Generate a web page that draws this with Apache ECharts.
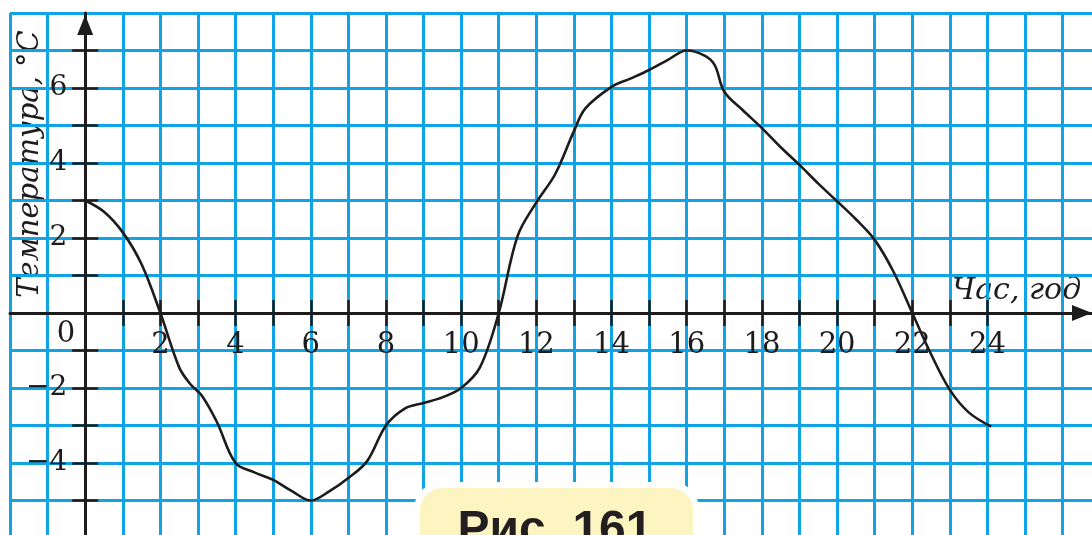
<!DOCTYPE html>
<html>
<head>
<meta charset="utf-8">
<script src="https://cdn.jsdelivr.net/npm/echarts@6/dist/echarts.min.js"></script>
<style>
  html, body { margin: 0; padding: 0; background: #ffffff; }
  #chart { width: 1092px; height: 535px; }
</style>
</head>
<body>
<div id="chart"></div>
<script>
// Temperature during the day: hour of the day and air temperature (°C)
const hours = [0, 0.5, 1, 1.5, 2, 2.5, 2.8, 3.1, 3.5, 4, 4.5, 5, 5.5, 6, 6.5, 7, 7.5, 8, 8.5, 9, 9.5, 10, 10.5, 11, 11.5, 12, 12.5, 13, 13.3, 14, 14.5, 15, 15.5, 16, 16.5, 16.75, 17, 17.5, 18, 18.5, 19, 19.5, 20, 20.5, 21, 21.5, 22, 22.5, 23, 23.5, 24.1];
const temps = [3.0, 2.7, 2.15, 1.3, 0.0, -1.45, -1.9, -2.2, -2.9, -4.0, -4.25, -4.45, -4.75, -5.0, -4.75, -4.4, -3.95, -3.0, -2.55, -2.4, -2.25, -2.0, -1.45, 0.0, 2.05, 2.95, 3.7, 4.85, 5.45, 6.03, 6.25, 6.48, 6.75, 7.0, 6.85, 6.6, 5.9, 5.4, 4.93, 4.42, 3.95, 3.45, 2.98, 2.5, 1.95, 1.1, 0.0, -1.1, -2.05, -2.65, -3.03];

// Tick marks and tick labels on both axes
const xTickHours = [1, 2, 3, 4, 5, 6, 7, 8, 9, 10, 11, 12, 13, 14, 15, 16, 17, 18, 19, 20, 21, 22, 23, 24];
const xLabelHours = [2, 4, 6, 8, 10, 12, 14, 16, 18, 20, 22, 24];
const yTickTemps = [-5, -4, -3, -2, -1, 1, 2, 3, 4, 5, 6, 7];
const yLabelTemps = [-4, -2, 2, 4, 6];

const X_MIN = -2, X_MAX = 26.78;
const Y_MIN = -6, Y_MAX = 8;

// plotting area of the squared paper
const G_LEFT = 10, G_TOP = 13, G_W = 1082, G_H = 525;

// distance of the zero lines from the grid edges, used to shift the black axes onto them
const zeroFromLeft = G_W * (0 - X_MIN) / (X_MAX - X_MIN);
const zeroFromTop = G_H * (Y_MAX - 0) / (Y_MAX - Y_MIN);
const zeroFromBottom = G_H - zeroFromTop;
const zeroFromRight = G_W - zeroFromLeft;

const INK = '#1c1c1c';
const GRID_BLUE = '#10a4e6';
const SERIF = '"DejaVu Serif", "Liberation Serif", serif';
const NUM_SIZE = 29;

const chart = echarts.init(document.getElementById('chart'), null, { renderer: 'canvas' });

const fmtNum = v => (v < 0 ? '\u2212' + Math.abs(v) : String(v));

const tickStyle = { color: INK, width: 2.5 };
const xAxisBase = { type: 'value', min: X_MIN, max: X_MAX, gridIndex: 0, splitLine: { show: false } };
const yAxisBase = { type: 'value', min: Y_MIN, max: Y_MAX, gridIndex: 0, splitLine: { show: false } };

const option = {
  backgroundColor: '#ffffff',
  animation: false,
  grid: { left: G_LEFT, top: G_TOP, width: G_W, height: G_H, containLabel: false, outerBoundsMode: 'none' },
  xAxis: [
    // squared paper (vertical lines)
    Object.assign({}, xAxisBase, {
      position: 'bottom', interval: 1,
      axisLine: { show: false, onZero: false },
      axisTick: { show: false }, axisLabel: { show: false },
      splitLine: { show: true, showMinLine: true, showMaxLine: false, lineStyle: { color: GRID_BLUE, width: 3 } }
    }),
    // hour axis with arrow, ticks below and labels
    Object.assign({}, xAxisBase, {
      position: 'bottom', offset: -zeroFromBottom,
      axisLine: {
        show: true, onZero: false,
        symbol: ['none', 'triangle'], symbolSize: [16, 20], symbolOffset: [0, -10],
        lineStyle: { color: INK, width: 3 }
      },
      axisTick: { show: true, customValues: xTickHours, length: 13, inside: false, lineStyle: tickStyle },
      axisLabel: {
        show: true, customValues: xLabelHours, margin: 18,
        fontFamily: SERIF, fontSize: NUM_SIZE, color: INK, formatter: fmtNum
      }
    }),
    // upper half of the hour ticks
    Object.assign({}, xAxisBase, {
      position: 'top', offset: -zeroFromTop,
      axisLine: { show: false, onZero: false },
      axisTick: { show: true, customValues: xTickHours, length: 13, inside: false, lineStyle: tickStyle },
      axisLabel: { show: false }
    })
  ],
  yAxis: [
    // squared paper (horizontal lines)
    Object.assign({}, yAxisBase, {
      position: 'left', interval: 1,
      axisLine: { show: false, onZero: false },
      axisTick: { show: false }, axisLabel: { show: false },
      splitLine: { show: true, showMinLine: true, showMaxLine: true, lineStyle: { color: GRID_BLUE, width: 3 } }
    }),
    // temperature axis with arrow, ticks to the left and labels
    Object.assign({}, yAxisBase, {
      position: 'left', offset: -zeroFromLeft,
      axisLine: {
        show: true, onZero: false,
        symbol: ['none', 'triangle'], symbolSize: [16, 20], symbolOffset: [0, -12],
        lineStyle: { color: INK, width: 3 }
      },
      axisTick: { show: true, customValues: yTickTemps, length: 13, inside: false, lineStyle: tickStyle },
      axisLabel: {
        show: true, customValues: yLabelTemps, margin: 18,
        fontFamily: SERIF, fontSize: NUM_SIZE - 1, color: INK, formatter: fmtNum,
        padding: [13, 0, 0, 0]
      }
    }),
    // right half of the temperature ticks
    Object.assign({}, yAxisBase, {
      position: 'right', offset: -zeroFromRight,
      axisLine: { show: false, onZero: false },
      axisTick: { show: true, customValues: yTickTemps, length: 13, inside: false, lineStyle: tickStyle },
      axisLabel: { show: false }
    })
  ],
  series: [{
    type: 'line',
    xAxisIndex: 0,
    yAxisIndex: 0,
    data: hours.map((h, i) => [h, temps[i]]),
    smooth: 0.35,
    symbol: 'none',
    clip: false,
    lineStyle: { color: INK, width: 2.6 },
    z: 5
  }],
  graphic: [
    {
      type: 'text', x: 30, y: 164, rotation: Math.PI / 2,
      style: {
        text: 'Температура, °C', align: 'center', verticalAlign: 'middle',
        font: 'italic 29px ' + SERIF, fill: INK
      }
    },
    {
      type: 'text', x: 952, y: 291,
      style: {
        text: 'Час, год', align: 'left', verticalAlign: 'middle',
        font: 'italic 30px ' + SERIF, fill: INK
      }
    },
    {
      type: 'text', x: 66, y: 334,
      style: {
        text: '0', align: 'center', verticalAlign: 'middle',
        font: NUM_SIZE + 'px ' + SERIF, fill: INK
      }
    },
    {
      type: 'rect', shape: { x: 414, y: 482, width: 285, height: 90, r: 27 },
      style: { fill: '#ffffff' }, z: 20
    },
    {
      type: 'rect', shape: { x: 420, y: 488, width: 273, height: 80, r: 22 },
      style: { fill: '#fcf5c2' }, z: 21
    },
    {
      type: 'text', x: 555, y: 531, z: 22,
      style: {
        text: 'Рис. 161', align: 'center', verticalAlign: 'middle',
        font: 'bold 48px "Liberation Sans", Arial, sans-serif', fill: '#231f20'
      }
    }
  ]
};

chart.setOption(option);
</script>
</body>
</html>
